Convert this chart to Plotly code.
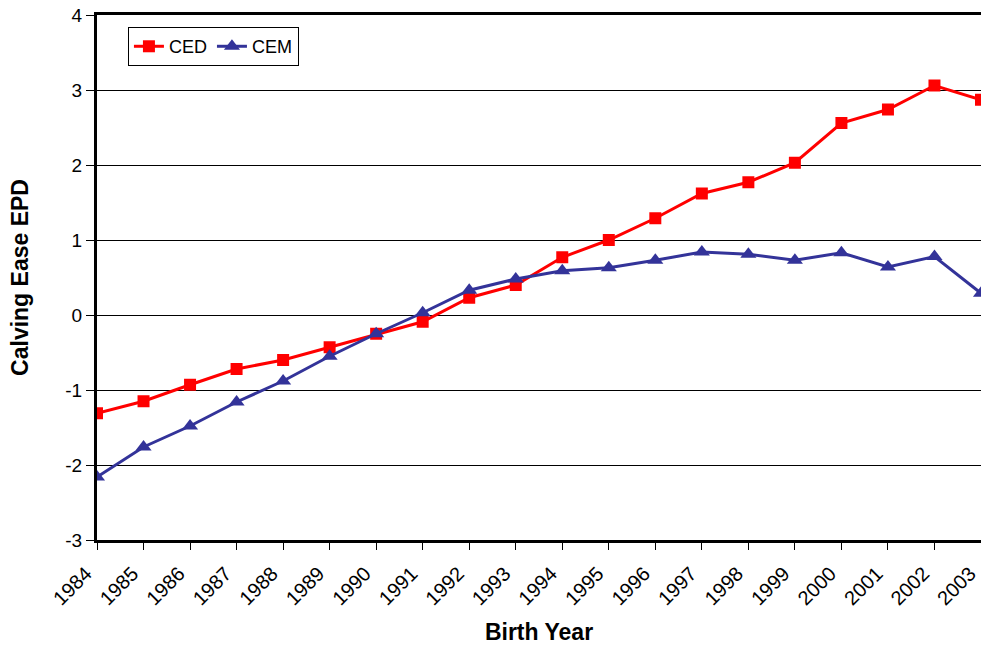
import plotly.graph_objects as go

years = list(range(1984, 2004))
ced = [-1.31, -1.15, -0.93, -0.72, -0.60, -0.43, -0.25, -0.09, 0.23, 0.40,
       0.77, 1.00, 1.29, 1.62, 1.77, 2.03, 2.56, 2.74, 3.06, 2.87]
cem = [-2.16, -1.76, -1.48, -1.16, -0.88, -0.55, -0.25, 0.03, 0.33, 0.48,
       0.59, 0.63, 0.73, 0.84, 0.81, 0.73, 0.83, 0.64, 0.78, 0.29]
y_ticks = [-3, -2, -1, 0, 1, 2, 3, 4]
y_ticktext = ["-3", "-2", "-1", "0", "1", "2", "3", "4"]

font_family = "Arial, Liberation Sans, sans-serif"

fig = go.Figure()
fig.add_trace(go.Scatter(
    x=years, y=ced, name="CED", mode="lines+markers",
    line=dict(color="#FF0000", width=3),
    marker=dict(symbol="square", size=12, color="#FF0000"),
))
fig.add_trace(go.Scatter(
    x=years, y=cem, name="CEM", mode="lines+markers",
    line=dict(color="#333399", width=3),
    marker=dict(symbol="triangle-up", size=14, color="#333399"),
))

fig.update_layout(
    width=981, height=645,
    margin=dict(l=97, r=0, t=15, b=105, autoexpand=False),
    paper_bgcolor="white", plot_bgcolor="white",
    font=dict(family=font_family, size=18, color="black"),
    showlegend=True,
    legend=dict(
        orientation="h", x=0.035, y=0.977, xanchor="left", yanchor="top",
        bordercolor="black", borderwidth=1, bgcolor="white",
        font=dict(size=18), tracegroupgap=0,
    ),
    xaxis=dict(
        range=[1984, 2003], tickmode="array", tickvals=years,
        ticktext=[str(y) for y in years], tickangle=-45,
        showgrid=False, zeroline=False, automargin=False,
        showline=True, linecolor="black", linewidth=3, mirror=True,
        ticks="outside", ticklen=7, tickwidth=1, tickcolor="black",
        tickfont=dict(size=20), ticklabeloverflow="allow",
        ticklabelshift=-11, ticklabelstandoff=4,
        title=dict(text="<b>Birth Year</b>", font=dict(size=23), standoff=18),
    ),
    yaxis=dict(
        range=[-3, 4], tickmode="array", tickvals=y_ticks, ticktext=y_ticktext,
        showgrid=True, gridcolor="black", gridwidth=1.3, zeroline=False,
        automargin=False,
        showline=True, linecolor="black", linewidth=3, mirror=False,
        ticks="outside", ticklen=8, tickwidth=1, tickcolor="black",
        tickfont=dict(size=19),
        title=dict(text="<b>Calving Ease EPD</b>", font=dict(size=23), standoff=31),
    ),
)

fig.write_html(
    "out.html",
    config={"displayModeBar": False},
    post_script="document.body.style.margin='0px';document.body.style.overflow='hidden';",
)
